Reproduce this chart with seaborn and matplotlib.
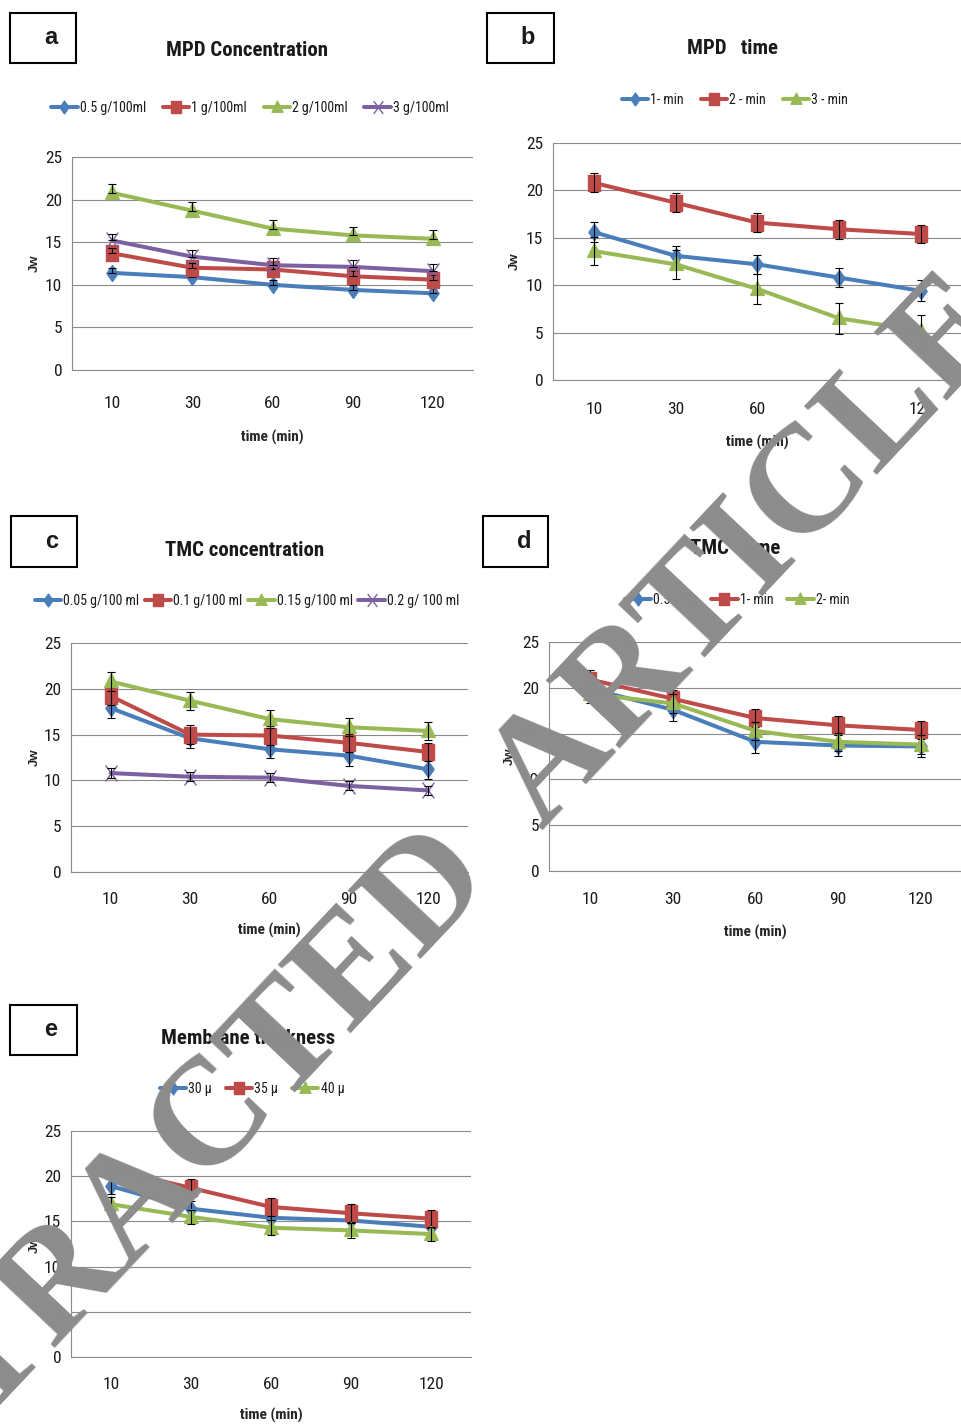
import numpy as np
import pandas as pd
import matplotlib
matplotlib.use("Agg")
import matplotlib.pyplot as plt
from matplotlib.path import Path
from matplotlib.patches import Rectangle
from matplotlib.lines import Line2D
import seaborn as sns

W, H = 962, 1426

times = ["10", "30", "60", "90", "120"]

# (a) MPD concentration
a_labels = ["0.5 g/100ml", "1 g/100ml", "2 g/100ml", "3 g/100ml"]
a_05 = [11.4, 10.9, 10.0, 9.4, 9.0]
a_1 = [13.7, 12.0, 11.8, 11.0, 10.6]
a_2 = [20.8, 18.7, 16.6, 15.8, 15.4]
a_3 = [15.2, 13.3, 12.3, 12.1, 11.6]
a_err_05 = [0.6, 0.6, 0.6, 0.6, 0.6]
a_err_1 = [0.6, 0.6, 0.6, 0.6, 0.6]
a_err_2 = [1.0, 1.0, 1.0, 1.0, 1.0]
a_err_3 = [0.8, 0.8, 0.8, 0.8, 0.8]

# (b) MPD time
b_labels = ["1- min", "2 - min", "3 - min"]
b_1 = [15.6, 13.1, 12.2, 10.8, 9.4]
b_2 = [20.8, 18.7, 16.6, 15.9, 15.4]
b_3 = [13.6, 12.2, 9.6, 6.5, 5.2]
b_err_1 = [1.05, 1.0, 1.0, 1.0, 1.1]
b_err_2 = [1.0, 1.0, 1.0, 1.0, 1.0]
b_err_3 = [1.5, 1.5, 1.6, 1.6, 1.7]

# (c) TMC concentration
c_labels = ["0.05 g/100 ml", "0.1 g/100 ml", "0.15 g/100 ml", "0.2 g/ 100 ml"]
c_005 = [17.9, 14.6, 13.4, 12.7, 11.2]
c_01 = [19.2, 15.0, 14.9, 14.1, 13.1]
c_015 = [20.8, 18.7, 16.7, 15.8, 15.4]
c_02 = [10.8, 10.4, 10.3, 9.4, 8.9]
c_err_005 = [1.1, 1.1, 1.0, 1.1, 1.1]
c_err_01 = [1.0, 1.0, 1.0, 1.0, 1.0]
c_err_015 = [1.0, 1.0, 1.0, 1.0, 1.0]
c_err_02 = [0.5, 0.5, 0.5, 0.5, 0.5]

# (d) TMC time
d_labels = ["0.5- min", "1- min", "2- min"]
d_05 = [19.9, 17.6, 14.1, 13.7, 13.6]
d_1 = [20.9, 18.8, 16.7, 15.9, 15.4]
d_2 = [19.3, 18.3, 15.3, 14.1, 13.8]
d_err_05 = [1.1, 1.2, 1.2, 1.1, 1.1]
d_err_1 = [1.0, 1.0, 1.0, 1.0, 1.0]
d_err_2 = [1.0, 1.0, 1.0, 1.0, 1.0]

# (e) Membrane thickness
e_labels = ["30 µ", "35 µ", "40 µ"]
e_30 = [18.9, 16.4, 15.4, 15.1, 14.4]
e_35 = [20.8, 18.7, 16.6, 15.9, 15.3]
e_40 = [16.9, 15.5, 14.3, 14.0, 13.6]
e_err_30 = [0.9, 0.9, 0.9, 0.9, 0.9]
e_err_35 = [1.0, 1.0, 1.0, 1.0, 1.0]
e_err_40 = [0.8, 0.8, 0.8, 0.8, 0.8]

sns.set_style("white")
NARROW = ["Liberation Sans Narrow", "Roboto Condensed", "DejaVu Sans"]
plt.rcParams["font.family"] = NARROW
plt.rcParams["text.color"] = "#1a1a1a"
plt.rcParams["xtick.color"] = "#1a1a1a"
plt.rcParams["ytick.color"] = "#1a1a1a"

COLORS = ["#4A7EBB", "#BE4B48", "#98B954", "#7D60A0"]
GRID = "#8a8a8a"
LW = 2.9
MS = 11.5

# Excel-style markers, slightly tall
M_DIAMOND = Path([(0, 1.35), (0.95, 0), (0, -1.35), (-0.95, 0), (0, 1.35)],
                 [Path.MOVETO, Path.LINETO, Path.LINETO, Path.LINETO, Path.CLOSEPOLY])
M_SQUARE = Path([(-1, -1.35), (1, -1.35), (1, 1.35), (-1, 1.35), (-1, -1.35)],
                [Path.MOVETO, Path.LINETO, Path.LINETO, Path.LINETO, Path.CLOSEPOLY])
M_TRI = Path([(0, 1.35), (1.15, -1.0), (-1.15, -1.0), (0, 1.35)],
             [Path.MOVETO, Path.LINETO, Path.LINETO, Path.CLOSEPOLY])
M_X = Path([(-1, -1.35), (1, 1.35), (-1, 1.35), (1, -1.35)],
           [Path.MOVETO, Path.LINETO, Path.MOVETO, Path.LINETO])
MARKERS = [M_DIAMOND, M_SQUARE, M_TRI, M_X]

fig = plt.figure(figsize=(W / 100, H / 100), dpi=100)


def frac_rect(l, t, r, b):
    return [l / W, 1 - b / H, (r - l) / W, (b - t) / H]


def fig_xy(x, y):
    return x / W, 1 - y / H


def draw_panel(letter, box, rect, title, title_xy, leg_xy, leg_gap, ylab_x,
               xlab_y, tick_pad, series, upper_only=False):
    # panel letter in a framed box
    bl, bt, br, bb = box
    fig.add_artist(Rectangle(fig_xy(bl, bb), (br - bl) / W, (bb - bt) / H,
                             transform=fig.transFigure, fill=False,
                             ec="black", lw=1.5))
    fig.text(*fig_xy(bl + 41, (bt + bb) / 2), letter, ha="center", va="center",
             fontsize=17, fontweight="bold",
             family=["Liberation Sans", "DejaVu Sans"])

    l, t, r, b = rect
    ax = fig.add_axes(frac_rect(l, t, r, b))
    pos = list(range(len(times)))
    names = [s[0] for s in series]
    rows = []
    for name, vals, _ in series:
        for p, v in zip(pos, vals):
            rows.append({"pos": p, "Jw": v, "series": name})
    df = pd.DataFrame(rows)
    pal = {n: COLORS[i] for i, n in enumerate(names)}
    mk = {n: MARKERS[i] for i, n in enumerate(names)}
    sns.lineplot(data=df, x="pos", y="Jw", hue="series", style="series",
                 hue_order=names, style_order=names, palette=pal, markers=mk,
                 dashes=False, errorbar=None, linewidth=LW, markersize=MS,
                 markeredgewidth=1.0, legend=False, ax=ax)
    for i, line in enumerate(ax.get_lines()):
        line.set_markeredgecolor(line.get_color())
        line.set_zorder(3 + i)

    for i, (name, vals, err) in enumerate(series):
        err = np.asarray(err)
        yerr = [np.zeros_like(err), err] if upper_only else err
        ax.errorbar(pos, vals, yerr=yerr, fmt="none", ecolor="black",
                    elinewidth=0.8, capsize=3, capthick=0.8, zorder=3.5 + i)

    ax.set_xlim(-0.5, len(times) - 0.5)
    ax.set_ylim(0, 25)
    ax.set_yticks(range(0, 26, 5))
    ax.set_xticks(pos)
    ax.set_xticklabels(times)
    ax.set_xticks([p - 0.5 for p in pos] + [pos[-1] + 0.5], minor=True)
    ax.tick_params(axis="x", which="major", length=0, pad=tick_pad, labelsize=12.5)
    ax.tick_params(axis="x", which="minor", length=5, width=0.8, color=GRID,
                   direction="out")
    ax.tick_params(axis="y", length=3, width=0.8, color=GRID, pad=4,
                   labelsize=12.5)
    ax.yaxis.grid(True, color=GRID, lw=0.8)
    ax.set_axisbelow(True)
    for s in ["top", "right"]:
        ax.spines[s].set_visible(False)
    for s in ["left", "bottom"]:
        ax.spines[s].set_color(GRID)
        ax.spines[s].set_linewidth(0.8)

    ax.set_xlabel("time (min)", fontsize=11, fontweight="bold")
    ax.xaxis.set_label_coords(0.5, -(xlab_y - b) / (b - t))
    ax.xaxis.label.set_va("center")
    ax.set_ylabel("Jw", fontsize=9.5, fontweight="bold",
                  family=["Liberation Sans", "DejaVu Sans"])
    ax.yaxis.set_label_coords((ylab_x - l) / (r - l), 0.5)
    ax.yaxis.label.set_va("center")

    fig.text(*fig_xy(*title_xy), title, ha="center", va="center",
             fontsize=15, fontweight="bold")

    handles = [Line2D([], [], color=COLORS[i], lw=LW, marker=MARKERS[i],
                      ms=MS * 0.8, mec=COLORS[i], mew=1.0)
               for i in range(len(names))]
    ax.legend(handles, names, loc="center", bbox_to_anchor=fig_xy(*leg_xy),
              bbox_transform=fig.transFigure, ncol=len(names), frameon=False,
              fontsize=10, handlelength=1.9, handletextpad=0.15,
              columnspacing=leg_gap, borderaxespad=0, borderpad=0)
    return ax


draw_panel("a", (10, 13, 76, 63), (72, 157, 473, 370), "MPD Concentration",
           (247, 50), (250, 108), 1.2, 35, 437, 18.5,
           [(a_labels[0], a_05, a_err_05), (a_labels[1], a_1, a_err_1),
            (a_labels[2], a_2, a_err_2), (a_labels[3], a_3, a_err_3)],
           upper_only=True)

draw_panel("b", (487, 13, 554, 63), (553, 143, 962, 380), "MPD   time",
           (733, 48), (735, 100), 1.2, 515, 442, 15.8,
           [(b_labels[0], b_1, b_err_1), (b_labels[1], b_2, b_err_2),
            (b_labels[2], b_3, b_err_3)])

draw_panel("c", (11, 516, 77, 567), (71, 643, 468, 872), "TMC concentration",
           (245, 550), (247, 601), 0.4, 35, 930, 14.4,
           [(c_labels[0], c_005, c_err_005), (c_labels[1], c_01, c_err_01),
            (c_labels[2], c_015, c_err_015), (c_labels[3], c_02, c_err_02)])

draw_panel("d", (483, 516, 548, 567), (549, 642, 962, 871), "TMC   time",
           (735, 548), (737, 600), 1.0, 510, 932, 15.0,
           [(d_labels[0], d_05, d_err_05), (d_labels[1], d_1, d_err_1),
            (d_labels[2], d_2, d_err_2)])

draw_panel("e", (10, 1005, 77, 1055), (71, 1131, 471, 1357), "Membrane thickness",
           (248, 1038), (252, 1089), 1.0, 35, 1415, 14.4,
           [(e_labels[0], e_30, e_err_30), (e_labels[1], e_35, e_err_35),
            (e_labels[2], e_40, e_err_40)])

# diagonal retraction stamp across the page
fig.text(*fig_xy(426, 953), "RETRACTED  ARTICLE", rotation=46.7,
         rotation_mode="anchor", ha="center", va="baseline", fontsize=110,
         fontweight="bold", family=["Liberation Serif", "DejaVu Serif"],
         color="#8c8c8c", zorder=20)

fig.savefig("out.png", dpi=100)
